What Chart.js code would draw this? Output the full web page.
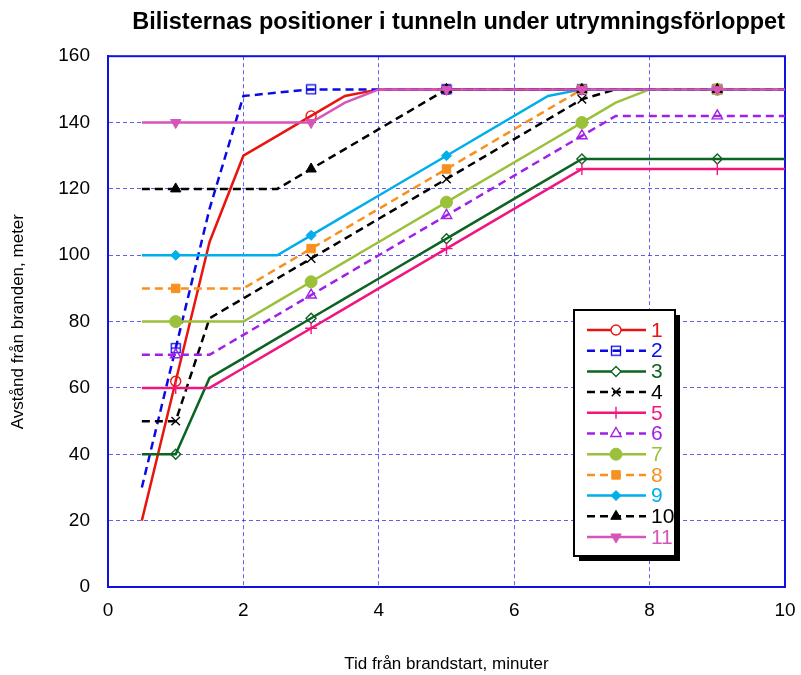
<!DOCTYPE html>
<html>
<head>
<meta charset="utf-8">
<script src="https://cdn.jsdelivr.net/npm/chart.js@4/dist/chart.umd.min.js"></script>
<style>
  html, body { margin: 0; padding: 0; background: #fff; }
  #wrap { width: 801px; height: 675px; }
</style>
</head>
<body>
<div id="wrap"><canvas id="chart" width="801" height="675"></canvas></div>
<script>
// time grid (minutes) shared by all drivers
const times = [0.5, 1, 1.5, 2, 2.5, 3, 3.5, 4, 5, 6.5, 7, 7.5, 8, 9, 10];

// distance from fire (m) for each driver
const dist1  = [20, 62, 104, 130, 136, 142, 148, 150, 150, 150, 150, 150, 150, 150, 150];
const dist2  = [30, 72, 114, 148, 149, 150, 150, 150, 150, 150, 150, 150, 150, 150, 150];
const dist3  = [40, 40, 63, 69, 75, 81, 87, 93, 105, 123, 129, 129, 129, 129, 129];
const dist4  = [50, 50, 81, 87, 93, 99, 105, 111, 123, 141, 147, 150, 150, 150, 150];
const dist5  = [60, 60, 60, 66, 72, 78, 84, 90, 102, 120, 126, 126, 126, 126, 126];
const dist6  = [70, 70, 70, 76, 82, 88, 94, 100, 112, 130, 136, 142, 142, 142, 142];
const dist7  = [80, 80, 80, 80, 86, 92, 98, 104, 116, 134, 140, 146, 150, 150, 150];
const dist8  = [90, 90, 90, 90, 96, 102, 108, 114, 126, 144, 150, 150, 150, 150, 150];
const dist9  = [100, 100, 100, 100, 100, 106, 112, 118, 130, 148, 150, 150, 150, 150, 150];
const dist10 = [120, 120, 120, 120, 120, 126, 132, 138, 150, 150, 150, 150, 150, 150, 150];
const dist11 = [140, 140, 140, 140, 140, 140, 146, 150, 150, 150, 150, 150, 150, 150, 150];

const seriesNames = ['1', '2', '3', '4', '5', '6', '7', '8', '9', '10', '11'];
const allDist = [dist1, dist2, dist3, dist4, dist5, dist6, dist7, dist8, dist9, dist10, dist11];
const markerTimes = [1, 3, 5, 7, 9];

const xMin = 0, xMax = 10, xStep = 2;
const yMin = 0, yMax = 160, yStep = 20;

const FONT = "'Liberation Sans', Arial, sans-serif";

function boxLine(color) {
  const c = document.createElement('canvas');
  c.width = 12; c.height = 12;
  const g = c.getContext('2d');
  g.strokeStyle = color;
  g.lineWidth = 1.3;
  g.strokeRect(1.5, 1.5, 9, 9);
  g.beginPath();
  g.moveTo(1.5, 6); g.lineTo(10.5, 6);
  g.stroke();
  return c;
}

const styles = [
  { color: '#e8150f', dash: [],     shape: 'circle',   fill: false, r: 5 },
  { color: '#0a0ae6', dash: [8, 5], shape: boxLine('#0a0ae6'), fill: false, r: 6 },
  { color: '#0b6421', dash: [],     shape: 'rectRot',  fill: false, r: 5 },
  { color: '#000000', dash: [8, 5], shape: 'crossRot', fill: false, r: 6 },
  { color: '#f0157f', dash: [],     shape: 'cross',    fill: false, r: 6 },
  { color: '#a020e6', dash: [8, 5], shape: 'triangle', fill: false, r: 6 },
  { color: '#9bc03a', dash: [],     shape: 'circle',   fill: true,  r: 6 },
  { color: '#f7901e', dash: [8, 5], shape: 'rect',     fill: true,  r: 6 },
  { color: '#00aeea', dash: [],     shape: 'rectRot',  fill: true,  r: 5 },
  { color: '#000000', dash: [8, 5], shape: 'triangle', fill: true,  r: 6 },
  { color: '#d655b8', dash: [],     shape: 'triangle', fill: true,  r: 6, rot: 180 }
];

const datasets = allDist.map((d, i) => {
  const st = styles[i];
  return {
    label: seriesNames[i],
    data: times.map((t, k) => ({ x: t, y: d[k] })),
    borderColor: st.color,
    borderWidth: 2.5,
    borderDash: st.dash,
    pointStyle: st.shape,
    pointRotation: st.rot || 0,
    pointBorderColor: st.color,
    pointBackgroundColor: st.fill ? st.color : 'rgba(0,0,0,0)',
    pointBorderWidth: st.fill ? 1 : 1.4,
    pointRadius: c => markerTimes.includes(c.raw.x) ? st.r : 0,
    pointHoverRadius: c => markerTimes.includes(c.raw.x) ? st.r : 0,
    tension: 0,
    order: allDist.length - 1 - i
  };
});

const framePlugin = {
  id: 'frame',
  beforeDatasetsDraw(chart) {
    const { ctx, chartArea: a } = chart;
    ctx.save();
    ctx.strokeStyle = '#1010e0';
    ctx.lineWidth = 2;
    ctx.strokeRect(a.left, a.top, a.right - a.left, a.bottom - a.top);
    ctx.restore();
  }
};

const legendBox = {
  id: 'legendBox',
  afterDraw(chart) {
    const ctx = chart.ctx;
    const x0 = 574, y0 = 310, w = 101, h = 246;
    ctx.save();
    ctx.fillStyle = '#000';
    ctx.fillRect(x0 + 5, y0 + 5, w, h);
    ctx.fillStyle = '#fff';
    ctx.fillRect(x0, y0, w, h);
    ctx.strokeStyle = '#000';
    ctx.lineWidth = 2;
    ctx.strokeRect(x0, y0, w, h);

    chart.data.datasets.forEach((ds, i) => {
      const st = styles[i];
      const y = 330 + i * 20.7;
      ctx.save();
      ctx.strokeStyle = st.color;
      ctx.lineWidth = 2.5;
      ctx.setLineDash(st.dash);
      ctx.beginPath();
      ctx.moveTo(587, y); ctx.lineTo(646, y);
      ctx.stroke();
      ctx.restore();

      ctx.save();
      ctx.strokeStyle = st.color;
      ctx.fillStyle = st.fill ? st.color : '#fff';
      ctx.lineWidth = st.fill ? 1 : 1.4;
      Chart.helpers.drawPoint(ctx, {
        pointStyle: st.shape, radius: st.r, rotation: st.rot || 0, borderWidth: ctx.lineWidth
      }, 616, y);
      ctx.restore();

      ctx.fillStyle = st.color;
      ctx.font = '21px ' + FONT;
      ctx.textAlign = 'left';
      ctx.textBaseline = 'middle';
      ctx.fillText(ds.label, 651, y + 1);
    });
    ctx.restore();
  }
};

new Chart(document.getElementById('chart'), {
  type: 'line',
  data: { datasets },
  options: {
    responsive: false,
    animation: false,
    layout: { padding: { left: 0, right: 16, top: 0, bottom: 0 } },
    plugins: {
      legend: { display: false },
      tooltip: { enabled: false },
      title: {
        display: true,
        text: 'Bilisternas positioner i tunneln under utrymningsförloppet',
        align: 'end',
        color: '#000',
        font: { family: FONT, size: 23.5, weight: 'bold' },
        padding: { top: 8, bottom: 20 }
      }
    },
    scales: {
      x: {
        type: 'linear',
        min: xMin, max: xMax,
        afterFit: s => { s.height = 88; s.paddingLeft = 0; s.paddingRight = 0; },
        ticks: { stepSize: xStep, color: '#000', font: { family: FONT, size: 19 }, padding: 12 },
        grid: { color: 'rgba(30,30,230,0.7)', lineWidth: 1, drawTicks: false },
        border: { display: true, color: '#1010e0', width: 2, dash: [4, 3] },
        title: {
          display: true, text: 'Tid från brandstart, minuter', color: '#000',
          font: { family: FONT, size: 17 }, padding: { top: 0, bottom: 0 }
        }
      },
      y: {
        min: yMin, max: yMax,
        afterFit: s => { s.width = 108; },
        ticks: { stepSize: yStep, color: '#000', font: { family: FONT, size: 19 }, padding: 18 },
        grid: { color: 'rgba(30,30,230,0.7)', lineWidth: 1, drawTicks: false },
        border: { display: true, color: '#1010e0', width: 2, dash: [4, 3] },
        title: {
          display: true, text: 'Avstånd från branden, meter', color: '#000',
          font: { family: FONT, size: 17 }, padding: { top: 8, bottom: 0 }
        }
      }
    }
  },
  plugins: [framePlugin, legendBox]
});
</script>
</body>
</html>
